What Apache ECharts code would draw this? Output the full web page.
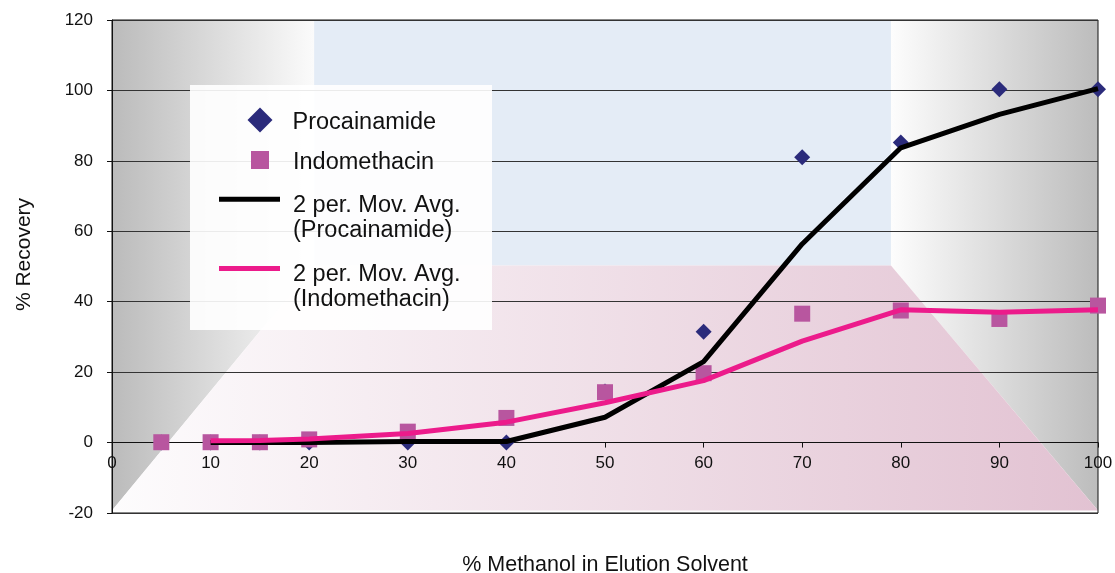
<!DOCTYPE html>
<html><head><meta charset="utf-8">
<script src="https://cdn.jsdelivr.net/npm/echarts@6/dist/echarts.min.js"></script>
<style>html,body{margin:0;padding:0;background:#fff}#c{width:1115px;height:573px}</style>
</head><body><div id="c"></div>
<script>
// ---- data ----
const seriesNames = ['Procainamide', 'Indomethacin', '2 per. Mov. Avg. (Procainamide)', '2 per. Mov. Avg. (Indomethacin)'];
const xValues = [5, 10, 15, 20, 30, 40, 50, 60, 70, 80, 90, 100];
const procainamide = [0, 0, 0, 0, 0, 0, 14.5, 31.5, 81, 85.2, 100.3, 100.3];
const indomethacin = [0.1, 0.1, 0.1, 0.9, 3.1, 7.0, 14.3, 19.7, 36.6, 37.5, 35.1, 38.9];
const maX = [10, 15, 20, 30, 40, 50, 60, 70, 80, 90, 100];
const maProcainamide = [0, 0, 0, 0.3, 0.3, 7.2, 23.0, 56.4, 83.7, 93.2, 100.5];
const maIndomethacin = [0.5, 0.6, 1.0, 2.6, 5.8, 11.3, 17.6, 28.8, 37.7, 37.0, 37.7];
const xRange = [0, 100], xStep = 10;
const yRange = [-20, 120], yStep = 20;
const xTitle = '% Methanol in Elution Solvent';
const yTitle = '% Recovery';

const FONT = '"Liberation Sans", Arial, Helvetica, sans-serif';
const pairs = (xs, ys) => xs.map((x, i) => [x, ys[i]]);

// layout
const W = 1115, H = 573;
const G = {left: 112, right: 17, top: 20, bottom: 60};
const gridH = H - G.top - G.bottom;
// x axis sits on the y = 0 line
const xAxisOffset = -((0 - yRange[0]) / (yRange[1] - yRange[0])) * gridH;

// decorative 3D-style plot background (walls & floor), in axis units
function roomItem(params, api) {
  const bx0 = 20.5, bx1 = 79, by = 50.3, top = 120, fy = -19.3, L = 0, R = 100;
  const grad = (a, b) => new echarts.graphic.LinearGradient(0, 0, 1, 0, [{offset: 0, color: a}, {offset: 1, color: b}]);
  const shapes = [
    {pts: [[L, top], [bx0, top], [bx0, by], [L, fy]], fill: grad('#bbbbbb', '#fbfbfb')},
    {pts: [[bx1, top], [R, top], [R, fy], [bx1, by]], fill: grad('#fdfdfd', '#bcbcbc')},
    {pts: [[bx0, top], [bx1, top], [bx1, by], [bx0, by]], fill: '#e4ecf6'},
    {pts: [[bx0, by], [bx1, by], [R, fy], [L, fy]], fill: grad('#fdfcfd', '#e2c2d2')}
  ];
  const s = shapes[params.dataIndex];
  return {type: 'polygon', shape: {points: s.pts.map(p => api.coord(p))}, style: {fill: s.fill}, silent: true};
}

const chart = echarts.init(document.getElementById('c'), null, {renderer: 'canvas'});
const baseText = {fontSize: 23.5, lineHeight: 25, color: '#111', fontFamily: FONT};
const legendBase = {orient: 'vertical', padding: 0, itemGap: 0, selectedMode: false};
const GAP1 = 5, GAP2 = 37;
const single = (o, padLeft) => Object.assign({}, legendBase, o, {
  formatter: n => '{g| }\n{t|' + n + '}',
  textStyle: Object.assign({}, baseText, {padding: [0, 0, 0, padLeft],
    rich: {g: {lineHeight: GAP1, fontSize: 4}, t: Object.assign({}, baseText)}})
});
const multi = (o) => Object.assign({}, legendBase, o, {
  formatter: n => '{g| }\n{t|' + n.replace(' (', '}\n{t|(') + '}',
  textStyle: Object.assign({}, baseText, {padding: [0, 0, 0, 8],
    rich: {g: {lineHeight: GAP2, fontSize: 10}, t: Object.assign({}, baseText)}})
});

chart.setOption({
  animation: false,
  grid: Object.assign({show: true, borderColor: '#111', borderWidth: 1,
         backgroundColor: 'transparent', outerBoundsMode: 'none'}, G),
  graphic: {elements: [{type: 'rect', left: 190, top: 85, shape: {width: 302, height: 245},
    style: {fill: 'rgba(255,255,255,0.9)'}, z: 3, silent: true}]},
  legend: [
    single({data: [seriesNames[0]], left: 247.5, top: 120 - (GAP1 + 25) / 2, itemWidth: 25, itemHeight: 25, icon: 'diamond'}, 15),
    single({data: [seriesNames[1]], left: 251, top: 160 - (GAP1 + 25) / 2, itemWidth: 18, itemHeight: 18, icon: 'rect'}, 19),
    multi({data: [seriesNames[2]], left: 219, top: 199.3 - (GAP2 + 50) / 2, itemWidth: 61, itemHeight: 5, icon: 'rect'}),
    multi({data: [seriesNames[3]], left: 219, top: 268.5 - (GAP2 + 50) / 2, itemWidth: 61, itemHeight: 5, icon: 'rect'})
  ],
  xAxis: {
    type: 'value', min: xRange[0], max: xRange[1], interval: xStep,
    offset: xAxisOffset,
    name: xTitle, nameLocation: 'middle', nameGap: 112,
    nameTextStyle: {fontSize: 21.5, color: '#111', fontFamily: FONT},
    axisLine: {show: true, onZero: false, lineStyle: {color: '#111', width: 1}},
    axisTick: {show: true, length: 5, lineStyle: {color: '#111'}},
    axisLabel: {fontSize: 17, color: '#111', fontFamily: FONT, margin: 12},
    splitLine: {show: false}
  },
  yAxis: {
    type: 'value', min: yRange[0], max: yRange[1], interval: yStep,
    name: yTitle, nameLocation: 'middle', nameGap: 77,
    nameTextStyle: {fontSize: 21, color: '#111', fontFamily: FONT, padding: [0, 0, 0, 24]},
    axisLine: {show: true, onZero: false, lineStyle: {color: '#111', width: 1}},
    axisTick: {show: true, length: 5, lineStyle: {color: '#111'}},
    axisLabel: {fontSize: 17, color: '#111', fontFamily: FONT, margin: 19},
    splitLine: {show: true, lineStyle: {color: '#333', width: 1}}
  },
  series: [
    {type: 'custom', renderItem: roomItem, data: [[0, 0], [1, 0], [2, 0], [3, 0]], z: -1, silent: true, clip: false},
    {name: seriesNames[0], type: 'scatter', data: pairs(xValues, procainamide), symbol: 'diamond', symbolSize: 16,
     color: '#2b2b7b', itemStyle: {color: '#2b2b7b', opacity: 1}, z: 2},
    {name: seriesNames[1], type: 'scatter', data: pairs(xValues, indomethacin), symbol: 'rect', symbolSize: 16,
     color: '#b8569f', itemStyle: {color: '#b8569f', opacity: 1}, z: 3},
    {name: seriesNames[2], type: 'line', data: pairs(maX, maProcainamide), symbol: 'none', showSymbol: false,
     color: '#000', lineStyle: {color: '#000', width: 5}, itemStyle: {color: '#000'}, z: 4},
    {name: seriesNames[3], type: 'line', data: pairs(maX, maIndomethacin), symbol: 'none', showSymbol: false,
     color: '#ec1b8b', lineStyle: {color: '#ec1b8b', width: 5}, itemStyle: {color: '#ec1b8b'}, z: 5}
  ]
});
</script></body></html>
